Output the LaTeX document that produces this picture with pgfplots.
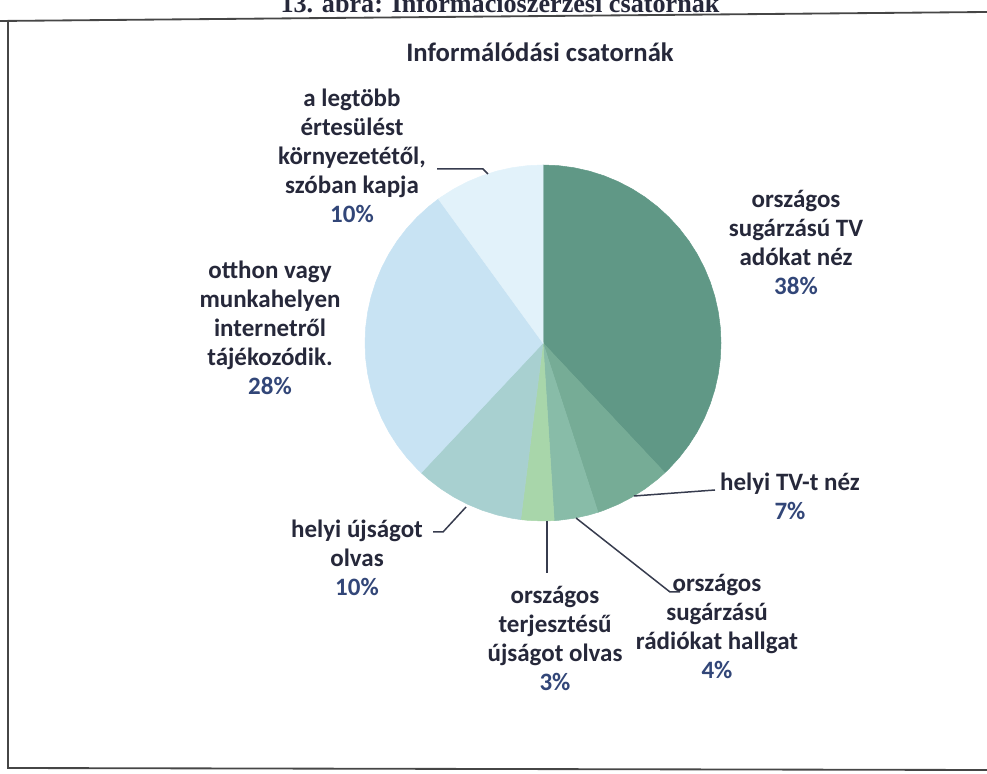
\documentclass[border=0pt]{standalone}
\usepackage{fontspec}
\setmainfont{Carlito}
\newfontfamily\seriffont{Liberation Serif}
\usepackage{pgfplots}
\pgfplotsset{compat=1.18}
\usepgfplotslibrary{polar}
\definecolor{c1}{RGB}{96,152,134}
\definecolor{c2}{RGB}{118,172,150}
\definecolor{c3}{RGB}{136,188,168}
\definecolor{c4}{RGB}{168,214,170}
\definecolor{c5}{RGB}{168,208,208}
\definecolor{c6}{RGB}{200,227,243}
\definecolor{c7}{RGB}{226,242,250}
\definecolor{txt}{RGB}{38,40,58}
\definecolor{pct}{RGB}{50,70,120}
\definecolor{lead}{RGB}{55,60,78}
\definecolor{frame}{RGB}{70,70,70}
\newcommand\pc[1]{\textcolor{pct}{#1}}
\tikzset{lbl/.style={align=center, text=txt, font=\bfseries\fontsize{15}{17.4}\selectfont}}
\begin{document}
\begin{tikzpicture}
\begin{axis}[scale only axis, width=592.2pt, height=463.8pt,
  xmin=-543, xmax=444, ymin=-430, ymax=343, hide axis, clip=true]
% pie slices (angle in degrees, radius in px), clockwise from 12 o'clock
% 38%
\addplot[data cs=polar, fill=c1, draw=c1, line width=0.3pt] coordinates {(0,0) (90,178) (85,178) (80,178) (75,178) (70,178) (65,178) (60,178) (55,178) (50,178) (45,178) (40,178) (35,178) (30,178) (25,178) (20,178) (15,178) (10,178) (5,178) (0,178) (-5,178) (-10,178) (-15,178) (-20,178) (-25,178) (-30,178) (-35,178) (-40,178) (-45,178) (-46.8,178)} --cycle;
% 7%
\addplot[data cs=polar, fill=c2, draw=c2, line width=0.3pt] coordinates {(0,0) (-46.8,178) (-50,178) (-55,178) (-60,178) (-65,178) (-70,178) (-72,178)} --cycle;
% 4%
\addplot[data cs=polar, fill=c3, draw=c3, line width=0.3pt] coordinates {(0,0) (-72,178) (-75,178) (-80,178) (-85,178) (-86.4,178)} --cycle;
% 3%
\addplot[data cs=polar, fill=c4, draw=c4, line width=0.3pt] coordinates {(0,0) (-86.4,178) (-90,178) (-95,178) (-97.2,178)} --cycle;
% 10%
\addplot[data cs=polar, fill=c5, draw=c5, line width=0.3pt] coordinates {(0,0) (-97.2,178) (-100,178) (-105,178) (-110,178) (-115,178) (-120,178) (-125,178) (-130,178) (-133.2,178)} --cycle;
% 28%
\addplot[data cs=polar, fill=c6, draw=c6, line width=0.3pt] coordinates {(0,0) (-133.2,178) (-135,178) (-140,178) (-145,178) (-150,178) (-155,178) (-160,178) (-165,178) (-170,178) (-175,178) (-180,178) (-185,178) (-190,178) (-195,178) (-200,178) (-205,178) (-210,178) (-215,178) (-220,178) (-225,178) (-230,178) (-234,178)} --cycle;
% 10%
\addplot[data cs=polar, fill=c7, draw=c7, line width=0.3pt] coordinates {(0,0) (126,178) (125,178) (120,178) (115,178) (110,178) (105,178) (100,178) (95,178) (90,178)} --cycle;
% leader lines
\addplot[draw=lead, line width=0.9pt] coordinates {(-55,169) (-60,174) (-106,174)};
\addplot[draw=lead, line width=0.9pt] coordinates {(91,-153) (172,-147)};
\addplot[draw=lead, line width=0.9pt] coordinates {(33,-175) (127,-249) (137,-249)};
\addplot[draw=lead, line width=0.9pt] coordinates {(4,-178) (4,-230)};
\addplot[draw=lead, line width=0.9pt] coordinates {(-77,-164) (-100,-189) (-110,-189)};
% frame
\addplot[draw=frame, line width=1.1pt] coordinates {(-543,322) (444,331)};
\addplot[draw=frame, line width=1.1pt] coordinates {(-535,322) (-535,-425) (444,-427)};
% texts
\node[anchor=base, text=txt, font=\seriffont\bfseries\fontsize{15.7}{18}\selectfont] at (axis cs:-43,330) {13. ábra: Információszerzési csatornák};
\node[anchor=base, text=txt, font=\bfseries\fontsize{16}{19}\selectfont] at (axis cs:-3,281) {Informálódási csatornák};
\node[lbl] at (axis cs:253,101) {országos\\sugárzású TV\\adókat néz\\\pc{38\%}};
\node[lbl] at (axis cs:247,-153) {helyi TV-t néz\\\pc{7\%}};
\node[lbl] at (axis cs:174,-283) {országos\\sugárzású\\rádiókat hallgat\\\pc{4\%}};
\node[lbl] at (axis cs:12,-295) {országos\\terjesztésű\\újságot olvas\\\pc{3\%}};
\node[lbl] at (axis cs:-186,-215) {helyi újságot\\olvas\\\pc{10\%}};
\node[lbl] at (axis cs:-273,15) {otthon vagy\\munkahelyen\\internetről\\tájékozódik.\\\pc{28\%}};
\node[lbl] at (axis cs:-191,187) {a legtöbb\\értesülést\\környezetétől,\\szóban kapja\\\pc{10\%}};
\end{axis}
\pgfresetboundingbox
\path[use as bounding box] (current axis.south west) rectangle (current axis.north east);
\end{tikzpicture}
\end{document}
